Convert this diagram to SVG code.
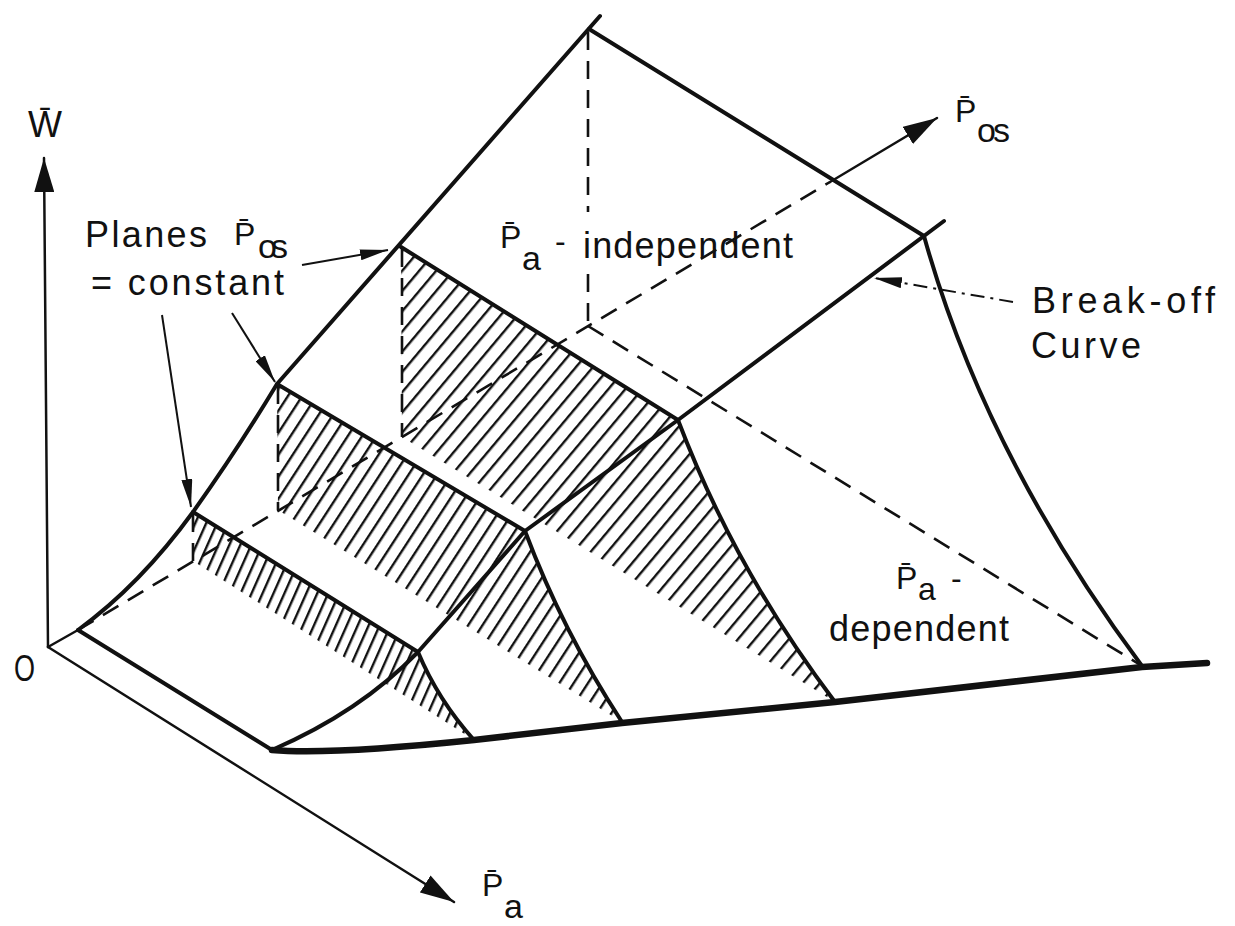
<svg xmlns="http://www.w3.org/2000/svg" width="1235" height="926" viewBox="0 0 1235 926">
  <style>
    .thin { fill: none; stroke: #111; stroke-width: 2.5; stroke-linecap: round; }
    .thick { fill: none; stroke: #111; stroke-width: 4; stroke-linecap: round; stroke-linejoin: round; }
    .base { fill: none; stroke: #111; stroke-width: 6.5; stroke-linecap: round; stroke-linejoin: round; }
    .dash { fill: none; stroke: #111; stroke-width: 2.6; stroke-dasharray: 18 11; }
    .lead { fill: none; stroke: #111; stroke-width: 2; }
    .lbl { font-family: "Liberation Sans", Arial, sans-serif; fill: #111; font-size: 36px; }
    .pb { font-size: 32px; }
    .sub { font-size: 34px; }
  </style>
  <defs>
    <marker id="ah" viewBox="0 0 34 20" refX="34" refY="10" markerWidth="34" markerHeight="20" markerUnits="userSpaceOnUse" orient="auto">
      <path d="M0,0 L34,10 L0,20 Z" fill="#111"/>
    </marker>
    <marker id="ahs" viewBox="0 0 28 11" refX="28" refY="5.5" markerWidth="28" markerHeight="11" markerUnits="userSpaceOnUse" orient="auto">
      <path d="M0,0 L28,5.5 L0,11 Z" fill="#111"/>
    </marker>
    <pattern id="hatch1" patternUnits="userSpaceOnUse" width="40" height="10" patternTransform="rotate(-66)">
      <rect x="0" y="0" width="40" height="2.4" fill="#111"/>
    </pattern>
    <pattern id="hatch2" patternUnits="userSpaceOnUse" width="40" height="12" patternTransform="rotate(-57)">
      <rect x="0" y="0" width="40" height="2.4" fill="#111"/>
    </pattern>
    <pattern id="hatch3" patternUnits="userSpaceOnUse" width="40" height="13" patternTransform="rotate(-50)">
      <rect x="0" y="0" width="40" height="2.4" fill="#111"/>
    </pattern>
  </defs>
  <rect x="0" y="0" width="1235" height="926" fill="#fff"/>

  <!-- hatched planes Pos = constant -->
  <g id="plane3-hatch">
    <path d="M401,247 L678,420 Q735,570 835,702 L402,437 Z" fill="url(#hatch3)"/>
  </g>
  <g id="plane2-hatch">
    <path d="M277,384 L525,531 Q563,632 622,722 L278,510 Z" fill="url(#hatch2)"/>
  </g>
  <g id="plane1-hatch">
    <path d="M193,512 L418,652 Q438,700 474,740 L193,561 Z" fill="url(#hatch1)"/>
  </g>

  <!-- axes -->
  <g id="axes">
    <line class="thin" x1="48" y1="647" x2="44" y2="158" marker-end="url(#ah)"/>
    <line class="thin" x1="48" y1="647" x2="454" y2="902" marker-end="url(#ah)"/>
    <line class="thin" x1="48" y1="647" x2="78" y2="630"/>
    <line class="dash" x1="78" y1="630" x2="830" y2="182"/>
    <line class="thin" x1="830" y1="182" x2="937" y2="118" marker-end="url(#ah)"/>
  </g>

  <!-- hidden (dashed) edges -->
  <g id="hidden-edges">
    <line class="dash" x1="193" y1="514" x2="193" y2="561"/>
    <line class="dash" x1="278" y1="386" x2="278" y2="510"/>
    <line class="dash" x1="402" y1="249" x2="402" y2="437"/>
    <line class="dash" x1="588" y1="32" x2="588" y2="212"/>
    <line class="dash" x1="588" y1="274" x2="588" y2="326"/>
    <line class="dash" x1="588" y1="326" x2="1142" y2="666"/>
  </g>

  <!-- surface edges -->
  <g id="surface">
    <path class="thick" d="M78,630 L272,750"/>
    <path class="thick" d="M78,630 Q140,585 193,512 Q236,452 277,384 L600,16"/>
    <path class="thick" d="M193,512 L418,652"/>
    <path class="thick" d="M277,384 L525,531"/>
    <path class="thick" d="M401,247 L678,420"/>
    <path class="thick" d="M589,29 L924,236"/>
    <path class="thick" d="M272,750 Q360,712 418,652 L525,531 L678,420 L944,221"/>
    <path class="thick" d="M418,652 Q438,700 474,740"/>
    <path class="thick" d="M525,531 Q563,632 622,722"/>
    <path class="thick" d="M678,420 Q735,570 835,702"/>
    <path class="thick" d="M924,236 Q985,455 1142,666"/>
    <path class="base" d="M272,750 Q330,755 474,740 L622,723 L835,702 L1142,667 L1207,663"/>
  </g>

  <!-- leaders -->
  <g id="leaders">
    <line class="lead" x1="302" y1="265" x2="388" y2="250" marker-end="url(#ahs)"/>
    <line class="lead" x1="232" y1="313" x2="275" y2="382" marker-end="url(#ahs)"/>
    <line class="lead" x1="162" y1="315" x2="191" y2="507" stroke-width="1.6" marker-end="url(#ahs)"/>
    <line class="lead" x1="1013" y1="302" x2="874" y2="278" stroke-dasharray="14 6 3 6" marker-end="url(#ahs)"/>
  </g>

  <!-- labels -->
  <g id="labels">
    <text class="lbl" x="28" y="137" font-size="40">W&#x304;</text>
    <text class="lbl" x="14" y="681" font-size="40" textLength="21" lengthAdjust="spacingAndGlyphs">O</text>
    <text class="lbl pb" x="482" y="896">P&#x304;<tspan class="sub" x="504" y="918">a</tspan></text>
    <text class="lbl pb" x="955" y="122">P&#x304;<tspan class="sub" x="977" y="142" textLength="33">os</tspan></text>
    <text class="lbl" x="85" y="247" textLength="122">Planes</text>
    <text class="lbl pb" x="234" y="245">P&#x304;<tspan class="sub" x="258" y="258" textLength="30">os</tspan></text>
    <text class="lbl" x="91" y="295" textLength="193">= constant</text>
    <text class="lbl pb" x="500" y="248">P&#x304;<tspan class="sub" x="522" y="270">a</tspan><tspan x="555" y="252">-</tspan></text>
    <text class="lbl" x="583" y="258" textLength="210">independent</text>
    <text class="lbl" x="1032" y="313" font-size="40" textLength="183">Break-off</text>
    <text class="lbl" x="1031" y="358" font-size="40" textLength="110">Curve</text>
    <text class="lbl pb" x="896" y="589">P&#x304;<tspan font-size="32" x="918" y="600">a</tspan><tspan x="951" y="589">-</tspan></text>
    <text class="lbl" x="829" y="641" textLength="180">dependent</text>
  </g>
</svg>
